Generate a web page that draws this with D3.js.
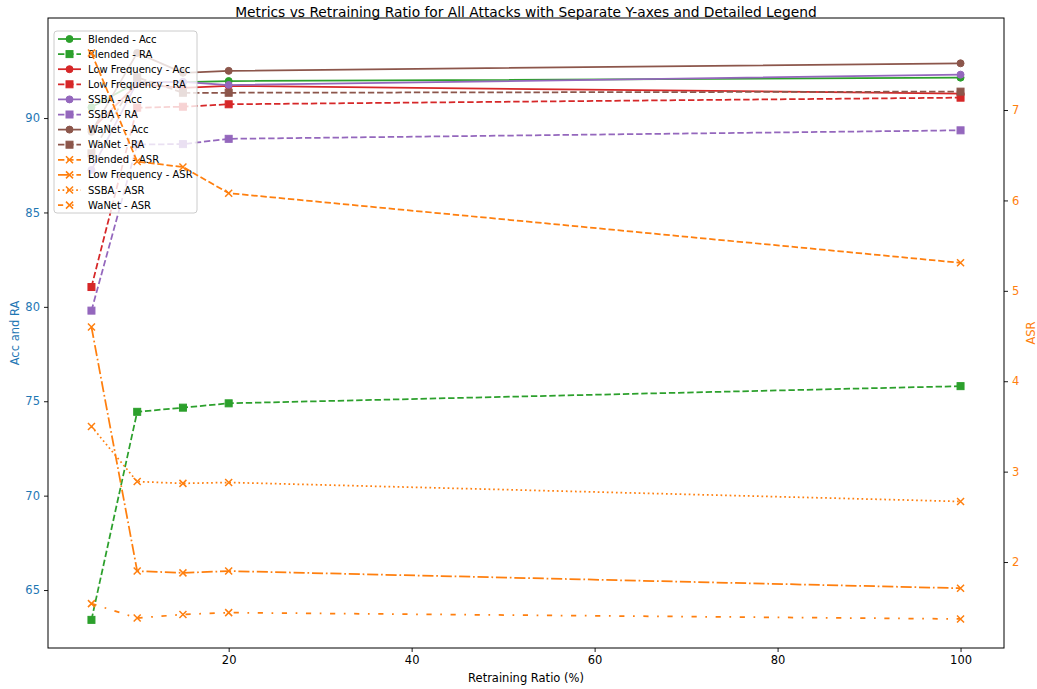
<!DOCTYPE html>
<html>
<head>
<meta charset="utf-8">
<script src="https://cdn.jsdelivr.net/npm/d3@7"></script>
<style>
  html, body { margin: 0; padding: 0; background: #fff; }
  svg { display: block; font-family: "DejaVu Sans", sans-serif; }
</style>
</head>
<body>
<svg id="chart" width="1037" height="689"></svg>
<script>
// Retraining ratios (%)
const ratios = [5, 10, 15, 20, 100];

// Left axis: Acc and RA
const blendedAcc = [90.57, 91.9, 91.9, 91.96, 92.14];
const blendedRA = [63.42, 74.44, 74.66, 74.89, 75.8];
const lowFreqAcc = [89.4, 91.8, 91.6, 91.7, 91.3];
const lowFreqRA = [81.05, 90.55, 90.6, 90.73, 91.08];
const ssbaAcc = [87.25, 91.9, 91.92, 91.75, 92.3];
const ssbaRA = [79.8, 88.6, 88.62, 88.9, 89.35];
const wanetAcc = [89.27, 93.45, 92.4, 92.5, 92.9];
const wanetRA = [88.13, 92.16, 91.34, 91.34, 91.4];

// Right axis: ASR
const blendedASR = [7.63, 6.43, 6.37, 6.08, 5.31];
const lowFreqASR = [4.6, 1.9, 1.88, 1.9, 1.71];
const ssbaASR = [3.5, 2.89, 2.87, 2.88, 2.67];
const wanetASR = [1.54, 1.38, 1.42, 1.44, 1.37];

const xTicks = [20, 40, 60, 80, 100];
const leftTicks = [65, 70, 75, 80, 85, 90];
const rightTicks = [2, 3, 4, 5, 6, 7];

const C = {
  blue: "#1f77b4", orange: "#ff7f0e", green: "#2ca02c",
  red: "#d62728", purple: "#9467bd", brown: "#8c564b"
};

// dash patterns (matplotlib, lw 1.5 at ~83 dpi)
const DASH = {
  solid: null,
  dashed: "6.4,2.8",
  dotted: "1.7,2.85",
  dashdot: "11.1,2.8,1.7,2.8",
  loose: "5.2,8.6,1.7,8.6"
};

const leftSeries = [
  { name: "Blended - Acc", values: blendedAcc, color: C.green, dash: "solid", marker: "circle" },
  { name: "Blended - RA", values: blendedRA, color: C.green, dash: "dashed", marker: "square" },
  { name: "Low Frequency - Acc", values: lowFreqAcc, color: C.red, dash: "solid", marker: "circle" },
  { name: "Low Frequency - RA", values: lowFreqRA, color: C.red, dash: "dashed", marker: "square" },
  { name: "SSBA - Acc", values: ssbaAcc, color: C.purple, dash: "solid", marker: "circle" },
  { name: "SSBA - RA", values: ssbaRA, color: C.purple, dash: "dashed", marker: "square" },
  { name: "WaNet - Acc", values: wanetAcc, color: C.brown, dash: "solid", marker: "circle" },
  { name: "WaNet - RA", values: wanetRA, color: C.brown, dash: "dashed", marker: "square" }
];
const rightSeries = [
  { name: "Blended - ASR", values: blendedASR, color: C.orange, dash: "dashed", marker: "x" },
  { name: "Low Frequency - ASR", values: lowFreqASR, color: C.orange, dash: "dashdot", marker: "x" },
  { name: "SSBA - ASR", values: ssbaASR, color: C.orange, dash: "dotted", marker: "x" },
  { name: "WaNet - ASR", values: wanetASR, color: C.orange, dash: "loose", marker: "x" }
];

const width = 1037, height = 689;
const margin = { top: 18, right: 33, bottom: 41, left: 48 };
const plotW = width - margin.left - margin.right;
const plotH = height - margin.top - margin.bottom;

const svg = d3.select("#chart");

const x = d3.scaleLinear().domain([0.25, 104.75]).range([margin.left, margin.left + plotW]);
const yL = d3.scaleLinear().domain([61.93, 95.3]).range([margin.top + plotH, margin.top]);
const yR = d3.scaleLinear().domain([1.049, 8.018]).range([margin.top + plotH, margin.top]);

function drawMarker(g, type, color, size) {
  const h = size / 2;
  if (type === "circle") {
    g.append("circle").attr("r", h).attr("fill", color).attr("stroke", color).attr("stroke-width", 1);
  } else if (type === "square") {
    g.append("rect").attr("x", -h).attr("y", -h).attr("width", size).attr("height", size)
      .attr("fill", color).attr("stroke", color).attr("stroke-width", 1);
  } else {
    g.append("path").attr("d", `M${-h},${-h}L${h},${h}M${-h},${h}L${h},${-h}`)
      .attr("stroke", color).attr("stroke-width", 1.5).attr("fill", "none");
  }
}

function drawSeries(layer, s, yScale) {
  const line = d3.line().x((d, i) => x(ratios[i])).y((d) => yScale(d));
  const g = layer.append("g");
  g.append("path")
    .datum(s.values)
    .attr("d", line)
    .attr("fill", "none")
    .attr("stroke", s.color)
    .attr("stroke-width", 1.75)
    .attr("stroke-dasharray", DASH[s.dash]);
  s.values.forEach((v, i) => {
    const m = g.append("g").attr("transform", `translate(${x(ratios[i])},${yScale(v)})`);
    drawMarker(m, s.marker, s.color, 7);
  });
}

// clip to plot area
svg.append("defs").append("clipPath").attr("id", "clip")
  .append("rect").attr("x", margin.left).attr("y", margin.top).attr("width", plotW).attr("height", plotH);

const leftLayer = svg.append("g").attr("clip-path", "url(#clip)");
leftSeries.forEach((s) => drawSeries(leftLayer, s, yL));

// Legend (belongs to the left axes, so ASR lines draw over it)
const legend = svg.append("g").attr("transform", "translate(54,31)");
const allSeries = leftSeries.concat(rightSeries);
const rowH = 15.1;
legend.append("rect")
  .attr("width", 143).attr("height", 182)
  .attr("rx", 3)
  .attr("fill", "#fff").attr("fill-opacity", 0.8)
  .attr("stroke", "#cccccc").attr("stroke-width", 1);
allSeries.forEach((s, i) => {
  const cy = 8 + i * rowH;
  const row = legend.append("g").attr("transform", `translate(0,${cy})`);
  row.append("line").attr("x1", 4).attr("x2", 27).attr("y1", 0).attr("y2", 0)
    .attr("stroke", s.color).attr("stroke-width", 1.75)
    .attr("stroke-dasharray", DASH[s.dash]);
  drawMarker(row.append("g").attr("transform", "translate(15.5,0)"), s.marker, s.color, 7);
  row.append("text").attr("x", 34).attr("y", 0).attr("dy", "0.35em")
    .attr("font-size", 10).attr("fill", "#000").text(s.name);
});

const rightLayer = svg.append("g").attr("clip-path", "url(#clip)");
rightSeries.forEach((s) => drawSeries(rightLayer, s, yR));

// Axes
const xAxis = svg.append("g")
  .attr("transform", `translate(0,${margin.top + plotH})`)
  .call(d3.axisBottom(x).tickValues(xTicks).tickFormat(d3.format("d")).tickSize(4).tickPadding(4));
const leftAxis = svg.append("g")
  .attr("transform", `translate(${margin.left},0)`)
  .call(d3.axisLeft(yL).tickValues(leftTicks).tickFormat(d3.format("d")).tickSize(4).tickPadding(4));
const rightAxis = svg.append("g")
  .attr("transform", `translate(${margin.left + plotW},0)`)
  .call(d3.axisRight(yR).tickValues(rightTicks).tickFormat(d3.format("d")).tickSize(4).tickPadding(4));

[xAxis, leftAxis, rightAxis].forEach((a) => {
  a.select(".domain").remove();
  a.selectAll("text").attr("font-size", 11.5).attr("font-family", "DejaVu Sans, sans-serif");
  a.selectAll("line").attr("stroke", "#000").attr("stroke-width", 0.9);
});
xAxis.selectAll("text").attr("fill", "#000");
leftAxis.selectAll("text").attr("fill", C.blue);
rightAxis.selectAll("text").attr("fill", C.orange);

// Frame
svg.append("rect")
  .attr("x", margin.left).attr("y", margin.top)
  .attr("width", plotW).attr("height", plotH)
  .attr("fill", "none").attr("stroke", "#000").attr("stroke-width", 1);

// Labels
svg.append("text")
  .attr("x", margin.left + plotW / 2).attr("y", 17)
  .attr("text-anchor", "middle").attr("font-size", 13.8).attr("fill", "#000")
  .text("Metrics vs Retraining Ratio for All Attacks with Separate Y-axes and Detailed Legend");
svg.append("text")
  .attr("x", margin.left + plotW / 2).attr("y", 682)
  .attr("text-anchor", "middle").attr("font-size", 11.5).attr("fill", "#000")
  .text("Retraining Ratio (%)");
svg.append("text")
  .attr("transform", `translate(19,${margin.top + plotH / 2}) rotate(-90)`)
  .attr("text-anchor", "middle").attr("font-size", 11.5).attr("fill", C.blue)
  .text("Acc and RA");
svg.append("text")
  .attr("transform", `translate(1035,${margin.top + plotH / 2}) rotate(-90)`)
  .attr("text-anchor", "middle").attr("font-size", 11.5).attr("fill", C.orange)
  .text("ASR");
</script>
</body>
</html>
